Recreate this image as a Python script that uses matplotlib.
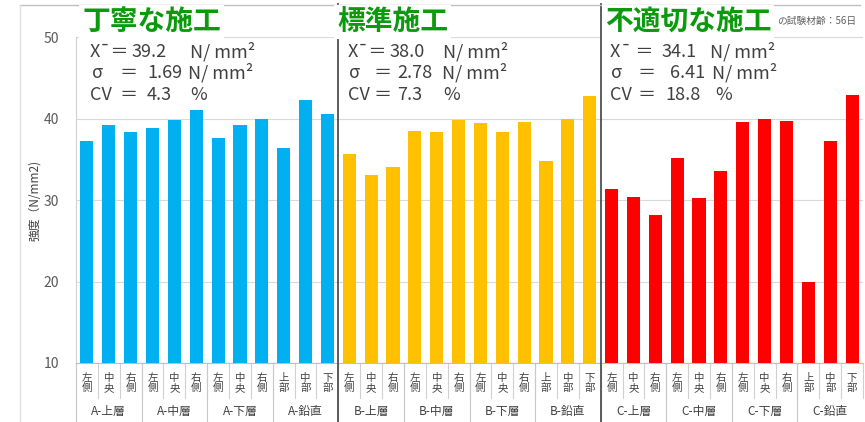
import matplotlib.pyplot as plt
from matplotlib.lines import Line2D

plt.rcParams['font.family'] = ['Noto Sans CJK JP', 'DejaVu Sans']

# 強度 (N/mm2)
vals_a = [37.3, 39.2, 38.3, 38.8, 39.8, 41.1, 37.6, 39.2, 40.0, 36.4, 42.3, 40.5]
vals_b = [35.7, 33.1, 34.1, 38.5, 38.3, 39.8, 39.4, 38.3, 39.6, 34.8, 39.9, 42.7]
vals_c = [31.3, 30.4, 28.2, 35.2, 30.2, 33.6, 39.6, 39.9, 39.7, 20.0, 37.2, 42.9]

pos_labels = ['左側', '中央', '右側'] * 3 + ['上部', '中部', '下部']
layers = ['上層', '中層', '下層', '鉛直']
groups = ['A', 'B', 'C']
titles = ['丁寧な施工', '標準施工', '不適切な施工']
colors = ['#00b0f0', '#ffc000', '#ff0000']
means = ['39.2', '38.0', '34.1']
sds = ['1.69', '2.78', '6.41']
cvs = ['4.3', '7.3', '18.8']

W, H = 865, 422
fig = plt.figure(figsize=(W / 100, H / 100), dpi=100)
ax = fig.add_axes([76 / W, 1 - 363 / H, 787 / W, 326 / H])

all_vals = vals_a + vals_b + vals_c
bar_colors = [c for c in colors for _ in range(12)]
ax.bar(range(36), [v - 10 for v in all_vals], bottom=10, width=0.6, color=bar_colors, zorder=3)

ax.set_xlim(-0.5, 35.5)
ax.set_ylim(10, 50)
ax.set_yticks([10, 20, 30, 40, 50])
ax.tick_params(axis='y', length=0, labelsize=10, labelcolor='#595959', pad=12)
ax.set_xticks([])
ax.grid(axis='y', color='#d9d9d9', linewidth=0.8, zorder=0)
for s in ['top', 'right']:
    ax.spines[s].set_visible(False)
ax.spines['left'].set_color('#d0d0d0')
ax.spines['bottom'].set_color('#bfbfbf')

xt = ax.get_xaxis_transform()
# category labels (stacked vertical text)
for i in range(36):
    lab = pos_labels[i % 12]
    ax.text(i, -0.062, lab[0] + '\n' + lab[1], transform=xt, ha='center', va='center',
            fontsize=7.5, color='#404040', linespacing=1.05, clip_on=False)
    ax.plot([i + 0.5, i + 0.5], [0, -0.107], transform=xt, color='#d0d0d0', lw=0.8, clip_on=False)
for g in range(12):
    ax.text(g * 3 + 1, -0.148, groups[g // 4] + '-' + layers[g % 4], transform=xt,
            ha='center', va='center', fontsize=8.5, color='#404040', clip_on=False)
    ax.plot([g * 3 - 0.5] * 2, [0, -0.18], transform=xt, color='#c8c8c8', lw=0.8, clip_on=False)

# dark separators between A / B / C
for xb in [11.5, 23.5]:
    ax.plot([xb, xb], [-0.18, 1.1], transform=xt, color='#505050', lw=1.3, clip_on=False, zorder=5)

# frame lines of the original chart
fig.add_artist(Line2D([20 / W, 860 / W], [1 - 5 / H] * 2, color='#c0c0c0', lw=1))
fig.add_artist(Line2D([20 / W, 20 / W], [1 - 5 / H, 0], color='#e0e0e0', lw=1))

# stats text boxes: pixel x of each piece (row1: "X¯＝",value,N  row2: σ,＝,value,N  row3: CV,＝,value,%)
piece_x = [
    [(90, 131, 190), (92, 120, 147, 188), (90, 120, 147, 190)],
    [(348, 389, 443), (349, 373, 397, 442), (348, 373, 397, 443)],
    [(610, 662, 710), (611, 638, 670, 712), (610, 638, 665, 715)],
]
rows_y = [52, 73, 95]
kw = dict(fontsize=13, color='#404040', va='center')
for k in range(3):
    lead = 'X¯ ＝' if k == 2 else 'X¯＝'
    row_txt = [(lead, means[k], 'N/ mm²'),
               ('σ', '＝', sds[k], 'N/ mm²'),
               ('CV', '＝', cvs[k], '%')]
    for r in range(3):
        for txt, px in zip(row_txt[r], piece_x[k][r]):
            fig.text(px / W, 1 - rows_y[r] / H, txt, **kw)

# green titles
tx = [82, 337, 605]
for k in range(3):
    fig.text(tx[k] / W, 1 - 22 / H, titles[k], fontsize=20, fontweight='bold', color='#0b9a0b',
             va='center', ha='left', zorder=10,
             bbox=dict(facecolor='white', edgecolor='none', pad=2))
fig.text(777 / W, 1 - 21 / H, 'の試験材齢：56日', fontsize=7, color='#606060', va='center')

fig.text(35 / W, 1 - 200 / H, '強度（N/mm2)', rotation=90, fontsize=8.5, color='#404040',
         ha='center', va='center')

fig.savefig('out.png', dpi=100)
